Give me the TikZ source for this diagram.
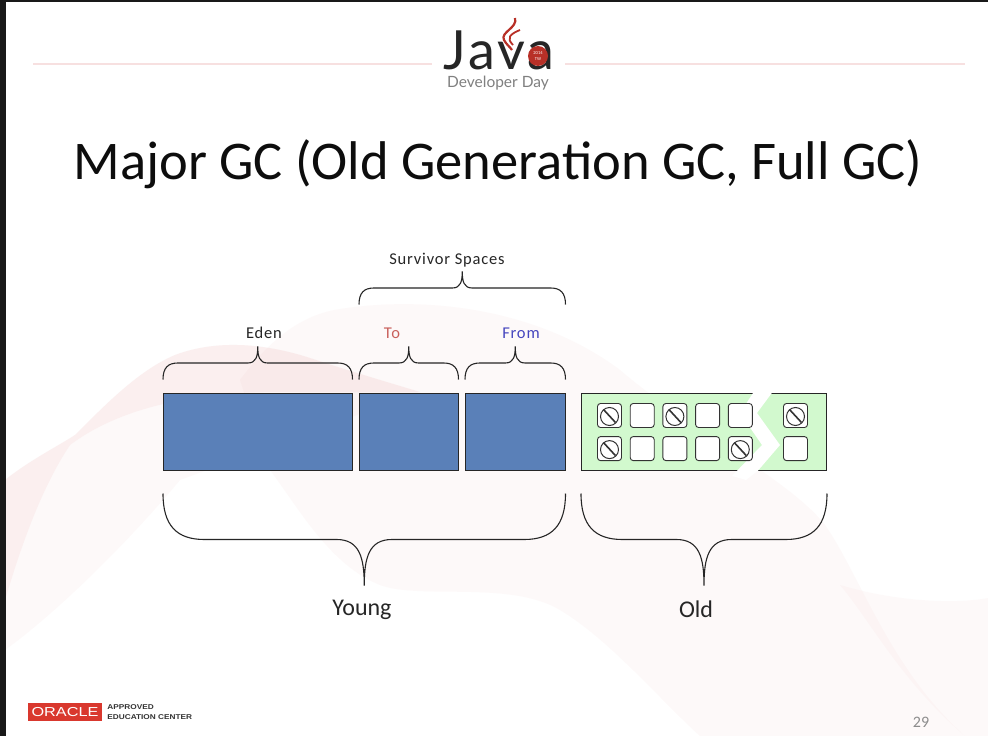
\documentclass[tikz,border=0pt]{standalone}
\usepackage{fontspec}
\setmainfont{Carlito}
\newfontfamily\spacedfont[LetterSpace=5]{Carlito}
\newfontfamily\logofont[LetterSpace=5]{Lato}
\newfontfamily\dayfont{Lato}
\newfontfamily\oraclefont[FakeStretch=1.25]{Liberation Sans}
\newfontfamily\centerfont[FakeStretch=1.18]{Liberation Sans Bold}
\usetikzlibrary{arrows.meta,positioning,calc}
\definecolor{spaceblue}{HTML}{5A80B8}
\definecolor{oldgreen}{HTML}{D2F9CE}
\definecolor{wavepink}{HTML}{EFB4B4}
\definecolor{rulepink}{HTML}{F7E0E0}
\definecolor{oraclered}{HTML}{D9382E}
\definecolor{tored}{HTML}{C9605C}
\definecolor{fromblue}{HTML}{4646BE}
\newcommand{\curly}[4]{%
  \draw[curlyline] let \p1=(#1),\p2=(#2),\n1={(\x1+\x2)/2},\n2={.5*#3*#4},\n3={.45*#3},\n4={.3*#3},\n5={sign(\x2-\x1)} in
    (\x1,\y1) .. controls (\x1,{\y1+.7*\n2}) and ({\x1+\n5*.15*#3},{\y1+\n2}) .. ({\x1+\n5*\n3},{\y1+\n2})
    -- ({\n1-\n5*\n4},{\y1+\n2}) .. controls ({\n1-\n5*.05*#3},{\y1+\n2}) and (\n1,{\y1+1.4*\n2}) .. (\n1,{\y1+2*\n2})
    .. controls (\n1,{\y1+1.4*\n2}) and ({\n1+\n5*.05*#3},{\y1+\n2}) .. ({\n1+\n5*\n4},{\y1+\n2})
    -- ({\x2-\n5*\n3},{\y1+\n2}) .. controls ({\x2-\n5*.15*#3},{\y1+\n2}) and (\x2,{\y1+.7*\n2}) .. (\x2,\y1);}

\begin{document}
\begin{tikzpicture}[
  x=1pt,y=-1pt,
  node distance=6.5pt,
  space/.style={draw=black!85,fill=spaceblue,line width=1pt,minimum height=77pt,inner sep=0pt},
  cell/.style={draw=black!80,fill=white,rounded corners=3pt,line width=.9pt,minimum size=24pt,inner sep=0pt},
  dead/.style={cell,path picture={
    \draw[black!80,line width=1pt] ([yshift=-1pt]path picture bounding box.center) circle (9pt);
    \draw[black!80,line width=1.6pt] ([shift={(-6pt,6pt)}]path picture bounding box.center) -- ([shift={(6pt,-7pt)}]path picture bounding box.center);}},
  curlyline/.style={draw=black!85,line width=1.1pt},
  small label/.style={font=\fontsize{16.5}{18}\spacedfont,text=black!85},
  big label/.style={font=\fontsize{24}{28}\selectfont,text=black!85},
  rule/.style={draw=rulepink,line width=1.2pt}
]
\useasboundingbox (0,0) rectangle (988,736);
\fill[white] (0,0) rectangle (988,736);
% background waves
\fill[wavepink,opacity=.08] (240,380) .. controls (270,340) and (300,315) .. (340,309) .. controls (430,295) and (540,310) .. (620,370) .. controls (690,430) and (790,480) .. (825,525) .. controls (860,575) and (890,670) .. (965,736) -- (700,736) .. controls (660,700) and (610,640) .. (560,610) .. controls (510,580) and (420,600) .. (380,585) .. controls (330,565) and (300,510) .. (270,470) -- cycle;
\fill[wavepink,opacity=.08] (5,480) .. controls (30,460) and (60,445) .. (75,435) .. controls (110,400) and (140,370) .. (175,355) .. controls (220,338) and (270,345) .. (310,358) .. controls (340,368) and (380,380) .. (420,392) -- (180,480) .. controls (130,540) and (60,610) .. (5,650) -- cycle;
\fill[wavepink,opacity=.14] (5,480) .. controls (30,460) and (60,445) .. (75,435) .. controls (110,400) and (140,370) .. (175,355) .. controls (220,338) and (270,345) .. (310,358) .. controls (340,368) and (380,380) .. (420,392) -- (300,392) .. controls (220,390) and (130,400) .. (70,445) .. controls (40,490) and (20,550) .. (5,600) -- cycle;
\fill[wavepink,opacity=.07] (840,585) .. controls (890,600) and (950,605) .. (988,598) -- (988,736) -- (965,736) .. controls (900,680) and (870,620) .. (840,585) -- cycle;
% screen edges
\fill[black!90] (0,0) rectangle (5.5,736);
\fill[black!90] (0,0) rectangle (988,1.5);
% header
\node[inner sep=0pt] (java) at (499,50) {\fontsize{54}{54}\logofont\textcolor{black!85}{Java}};
\node[inner sep=0pt,font=\fontsize{15.5}{18}\dayfont,text=black!50] (devday) at (498,83) {Developer Day};
\coordinate (ruleLeftEnd) at (432,64);
\coordinate (ruleRightEnd) at (565,64);
\coordinate (ruleLeft) at (33,64);
\coordinate (ruleRight) at (965,64);
\draw[rule] (ruleLeft) -- (ruleLeftEnd);
\draw[rule] (ruleRightEnd) -- (ruleRight);
\fill[oraclered!85!black] (538,56) circle (10pt);
\node[text=white,font=\fontsize{4.5}{5.5}\selectfont,align=center,inner sep=0pt] (logoyear) at (538,56) {2014\\TW};
\draw[oraclered!85!black,line width=2.2pt] (515,18) .. controls (518,28) and (500,32) .. (504,40) .. controls (506,44) and (510,47) .. (512,50);
\draw[oraclered!85!black,line width=1.8pt] (520,30) .. controls (510,34) and (506,38) .. (513,45);
\node[font=\fontsize{54.5}{58}\selectfont,text=black!95] (title) at (498,164) {Major GC (Old Generation GC, Full GC)};
% generations
\node[space,minimum width=188.5pt] (eden) at (257.75,431.5) {};
\node[space,minimum width=98.5pt,right=of eden] (to) {};
\node[space,minimum width=99.5pt,right=of to] (from) {};
\node[draw=black!85,fill=oldgreen,line width=1pt,minimum width=245pt,minimum height=77pt,inner sep=0pt] (old) at (704,431.5) {};
\fill[white] (755,390) -- (774,390) -- (757,413) -- (780,445) -- (758,470.6) -- (746,480) -- (732,476) -- (762,445) -- (740,413) -- cycle;
% cells
\node[dead] (a1) at (609.5,415.5) {};
\node[cell,right=7.8pt of a1] (a2) {};
\node[dead,right=7.8pt of a2] (a3) {};
\node[cell,right=7.8pt of a3] (a4) {};
\node[cell,right=7.8pt of a4] (a5) {};
\node[dead] (a6) at (795.5,415.5) {};
\node[dead,below=8.2pt of a1] (b1) {};
\node[cell,right=7.8pt of b1] (b2) {};
\node[cell,right=7.8pt of b2] (b3) {};
\node[cell,right=7.8pt of b3] (b4) {};
\node[dead,right=7.8pt of b4] (b5) {};
\node[cell,below=8.2pt of a6] (b6) {};
% braces
\curly{$(eden.north west)+(0,-13)$}{$(eden.north east)+(0,-13)$}{33pt}{1}
\curly{$(to.north west)+(0,-13)$}{$(to.north east)+(0,-13)$}{33pt}{1}
\curly{$(from.north west)+(0,-13)$}{$(from.north east)+(0,-13)$}{33pt}{1}
\curly{$(to.north west)+(0,-88)$}{$(from.north east)+(0,-88)$}{33pt}{1}
\curly{$(eden.south west)+(0,23)$}{$(from.south east)+(0,23)$}{92pt}{-1}
\curly{$(old.south west)+(0,23)$}{$(old.south east)+(0,23)$}{92pt}{-1}
% labels
\node[small label] (survivor) at (447,260) {Survivor Spaces};
\node[small label] (edenlabel) at (264,333) {Eden};
\node[small label,text=tored] (tolabel) at (392,333) {To};
\node[small label,text=fromblue] (fromlabel) at (521,333) {From};
\node[big label] (young) at (362,610) {Young};
\node[big label] (oldlabel) at (696,609) {Old};
% footer
\node[fill=oraclered,text=white,minimum width=74pt,minimum height=18pt,inner sep=0pt,font=\fontsize{13}{13}\oraclefont] (oracle) at (65,712) {ORACLE};
\node[right=5pt of oracle,inner sep=0pt,align=left,text=black!80,font=\fontsize{7}{9.5}\centerfont] (approved) {APPROVED\\EDUCATION CENTER};
\node[text=black!45,font=\fontsize{16}{18}\selectfont] (page) at (921,722) {29};
\end{tikzpicture}
\end{document}
